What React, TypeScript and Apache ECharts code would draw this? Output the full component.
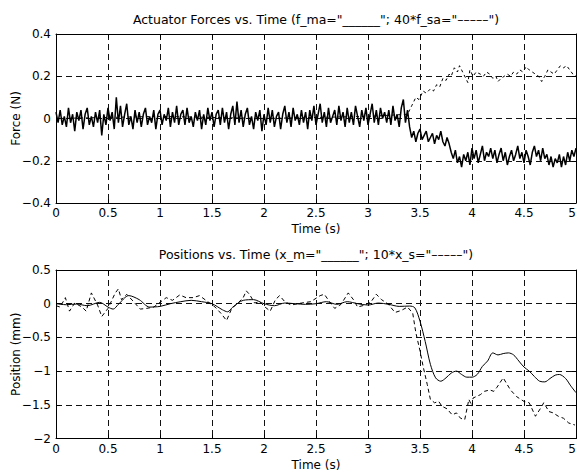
import React, { useEffect, useRef } from "react";
import * as echarts from "echarts";

// ---------- DATA ----------
const xTicks = [0, 0.5, 1, 1.5, 2, 2.5, 3, 3.5, 4, 4.5, 5];
const forceTicks = [-0.4, -0.2, 0, 0.2, 0.4];
const posTicks = [-2, -1.5, -1, -0.5, 0, 0.5];

// f_ma sampled every 0.02 s from 0 to 5 s (N)
const forceMasterStep = 0.02;
const forceMaster = [
  0.03, -0.02, 0.04, -0.03, 0.01, -0.04, 0.05, -0.02, 0.02, -0.06, 0.03, -0.01, 0.04, -0.05, 0.02, 0.05, -0.03, 0.01, -0.04, 0.03,
  -0.02, 0.04, -0.08, 0.02, -0.03, 0.05, -0.01, 0.03, -0.05, 0.10, -0.02, 0.06, -0.04, 0.02, 0.07, -0.03, 0.01, -0.05, 0.04, -0.02,
  0.03, -0.04, 0.02, 0.05, -0.03, 0.01, -0.02, 0.04, -0.05, 0.02, 0.04, -0.03, 0.02, -0.01, 0.05, -0.04, 0.03, -0.02, 0.06, -0.03,
  0.02, 0.04, -0.03, 0.05, -0.02, 0.01, -0.04, 0.03, -0.01, 0.04, -0.05, 0.02, -0.03, 0.05, -0.01, 0.03, -0.04, 0.02, 0.04, -0.03,
  0.05, -0.02, 0.03, -0.05, 0.02, 0.06, -0.03, 0.08, -0.02, 0.04, -0.04, 0.02, 0.05, -0.03, 0.01, -0.05, 0.03, -0.01, 0.04, -0.06,
  0.02, -0.03, 0.05, -0.02, 0.04, -0.04, 0.01, 0.03, -0.05, 0.02, 0.06, -0.02, 0.03, -0.04, 0.05, -0.01, 0.02, -0.03, 0.04, -0.02,
  0.03, -0.05, 0.04, -0.01, 0.06, -0.03, 0.02, 0.07, -0.02, 0.03, -0.04, 0.05, -0.02, 0.01, 0.04, -0.03, 0.06, -0.01, 0.03, -0.04,
  0.05, -0.02, 0.03, -0.03, 0.06, 0.01, -0.04, 0.04, -0.01, 0.05, -0.03, 0.02, 0.07, -0.02, 0.04, -0.03, 0.05, 0.0, 0.03, -0.02,
  0.04, -0.03, 0.06, -0.01, 0.02, -0.04, 0.05, 0.09, -0.02, 0.04,
  -0.04, -0.09, -0.06, -0.11, -0.07, -0.05, -0.10, -0.08, -0.06, -0.11, -0.09, -0.07, -0.12, -0.08, -0.10, -0.06, -0.11, -0.13, -0.09, -0.12,
  -0.16, -0.19, -0.15, -0.21, -0.18, -0.23, -0.17, -0.20, -0.16, -0.22, -0.14, -0.19, -0.15, -0.21, -0.17, -0.13, -0.20, -0.16, -0.18, -0.14,
  -0.19, -0.15, -0.21, -0.17, -0.14, -0.20, -0.16, -0.22, -0.18, -0.15, -0.20, -0.17, -0.13, -0.19, -0.16, -0.21, -0.15, -0.18, -0.22, -0.16,
  -0.13, -0.18, -0.15, -0.20, -0.14, -0.19, -0.17, -0.22, -0.18, -0.23, -0.19, -0.21, -0.17, -0.23, -0.18, -0.22, -0.16, -0.20, -0.15, -0.18,
  -0.14,
];

// 40*f_sa (N)
const forceSlaveT = [
  0, 1, 2, 3, 3.38, 3.42, 3.46, 3.49, 3.53, 3.56, 3.6, 3.63, 3.66, 3.69, 3.72, 3.75, 3.78, 3.8, 3.83, 3.86, 3.88, 3.91, 3.94, 3.96, 3.98,
  4.01, 4.04, 4.08, 4.11, 4.14, 4.17, 4.2, 4.23, 4.25, 4.28, 4.31, 4.34, 4.37, 4.4, 4.43, 4.46, 4.49, 4.52, 4.55, 4.58,
  4.61, 4.64, 4.67, 4.7, 4.73, 4.76, 4.79, 4.82, 4.85, 4.88, 4.91, 4.94, 4.97, 5.0,
];
const forceSlave = [
  0, 0.01, 0, 0.01, 0.02, 0.06, 0.1, 0.09, 0.13, 0.12, 0.14, 0.13, 0.16, 0.15, 0.19, 0.18, 0.21, 0.2, 0.24, 0.22, 0.25, 0.22, 0.19, 0.17, 0.23,
  0.2, 0.22, 0.21, 0.2, 0.22, 0.21, 0.19, 0.2, 0.175, 0.19, 0.2, 0.21, 0.2, 0.22, 0.21, 0.23, 0.22, 0.245, 0.23, 0.22,
  0.21, 0.2, 0.175, 0.2, 0.23, 0.22, 0.21, 0.23, 0.25, 0.24, 0.25, 0.23, 0.21, 0.2,
];

// x_m (mm)
const posMasterT = [
  0, 0.1, 0.2, 0.3, 0.42, 0.5, 0.55, 0.6, 0.7, 0.8, 0.9, 1.0, 1.1, 1.2, 1.3, 1.4, 1.5, 1.6, 1.65, 1.7, 1.8, 1.9, 2.0, 2.1, 2.2,
  2.3, 2.4, 2.5, 2.6, 2.7, 2.8, 2.9, 3.0, 3.1, 3.2, 3.3, 3.4, 3.45, 3.5, 3.55, 3.6, 3.65, 3.7, 3.75, 3.8, 3.85, 3.9, 3.95,
  4.0, 4.05, 4.1, 4.15, 4.2, 4.25, 4.3, 4.35, 4.4, 4.45, 4.5, 4.55, 4.6, 4.65, 4.7, 4.75, 4.8, 4.84, 4.9, 4.95, 5.0,
];
const posMaster = [
  0, -0.015, -0.005, -0.03, 0.02, -0.05, -0.08, -0.01, 0.12, 0.06, -0.05, -0.04, 0, 0.03, 0.05, 0.03, 0, -0.09, -0.12, -0.05, 0.05, 0.06, 0, -0.03, 0.01,
  0, -0.01, 0, 0.03, -0.01, 0.03, 0, -0.02, 0.01, -0.01, -0.04, -0.035, -0.06, -0.26, -0.56, -0.9, -1.1, -1.15, -1.1, -1.03, -1.0, -1.05, -1.09,
  -1.09, -1.05, -0.93, -0.85, -0.73, -0.76, -0.74, -0.73, -0.76, -0.85, -0.94, -1.0, -1.08, -1.15, -1.16, -1.11, -1.06, -1.05, -1.11, -1.22, -1.32,
];

// 10*x_s (mm)
const posSlaveT = [
  0, 0.04, 0.09, 0.13, 0.18, 0.25, 0.29, 0.34, 0.4, 0.44, 0.5, 0.57, 0.6, 0.63, 0.68, 0.74, 0.81, 0.87, 0.94, 1.0, 1.06, 1.12, 1.19, 1.25,
  1.32, 1.38, 1.45, 1.53, 1.59, 1.64, 1.69, 1.75, 1.8, 1.83, 1.86, 1.91, 1.96, 2.01, 2.06, 2.11, 2.15, 2.2, 2.26, 2.36, 2.45, 2.54, 2.58,
  2.63, 2.68, 2.74, 2.81, 2.86, 2.9, 2.97, 3.03, 3.08, 3.13, 3.19, 3.26, 3.32, 3.38, 3.43, 3.46, 3.5, 3.53, 3.57, 3.6, 3.64, 3.68, 3.71,
  3.76, 3.81, 3.85, 3.89, 3.93, 3.97, 4.0, 4.01, 4.08, 4.12, 4.17, 4.21, 4.24, 4.3, 4.37, 4.43, 4.5, 4.55, 4.61, 4.66, 4.69, 4.74, 4.78,
  4.83, 4.88, 4.93, 4.99,
];
const posSlave = [
  -0.03, -0.05, 0.09, -0.11, 0.01, -0.05, -0.11, 0.16, -0.02, -0.19, -0.07, 0.16, 0.22, 0.06, 0.14, 0.04, -0.08, -0.07, -0.05, 0.02, 0.09, 0.05, 0.13, 0.09,
  0.09, 0.12, 0.04, -0.05, -0.15, -0.25, -0.07, 0.01, 0.09, 0.19, 0.14, 0.01, 0.03, -0.05, -0.11, 0.06, 0.12, 0.03, -0.02, 0.01, 0.03, 0.12, 0.14,
  0.03, -0.07, -0.01, 0.16, 0.06, -0.05, -0.02, 0.03, 0.14, 0.06, 0, -0.13, -0.1, -0.05, -0.14, -0.43, -0.7, -0.93, -1.2, -1.42, -1.47, -1.45, -1.52,
  -1.56, -1.65, -1.62, -1.7, -1.72, -1.42, -1.52, -1.4, -1.35, -1.3, -1.28, -1.3, -1.24, -1.1, -1.28, -1.38, -1.45, -1.47, -1.67, -1.55, -1.47, -1.6, -1.62,
  -1.67, -1.7, -1.77, -1.8,
];

const titleTop = 'Actuator Forces vs. Time (f_ma="______"; 40*f_sa="–––––")';
const titleBottom = 'Positions vs. Time (x_m="______"; 10*x_s="–––––")';
const xName = "Time (s)";
const yNameTop = "Force (N)";
const yNameBottom = "Position (mm)";

// ---------- CHART ----------
const FONT = "'DejaVu Sans', 'Liberation Sans', Arial, sans-serif";
const fmt = (v: number) => {
  const r = Math.round(v * 1000) / 1000;
  return String(r).replace("-", "\u2212");
};

export default function App() {
  const ref = useRef<HTMLDivElement>(null);
  useEffect(() => {
    if (!ref.current) return;
    const chart = echarts.init(ref.current, undefined, { renderer: "svg" });

    const grids = [
      { left: 56, top: 34, width: 520, height: 169 },
      { left: 56, top: 270, width: 520, height: 168.5 },
    ];
    const yRanges = [
      { min: forceTicks[0], max: forceTicks[forceTicks.length - 1], interval: 0.2, name: yNameTop },
      { min: posTicks[0], max: posTicks[posTicks.length - 1], interval: 0.5, name: yNameBottom },
    ];
    const gridLine = { show: true, lineStyle: { color: "#111", width: 1, type: [6, 4] as any } };
    const textStyle = { color: "#000", fontSize: 12, fontFamily: FONT };
    const frame = { show: true, onZero: false, lineStyle: { color: "#000", width: 1 } };
    const tick = { show: true, inside: true, length: 4, lineStyle: { color: "#000" } };

    const xAxis: any[] = [];
    const yAxis: any[] = [];
    [0, 1].forEach((g) => {
      xAxis.push({
        type: "value",
        gridIndex: g,
        min: xTicks[0],
        max: xTicks[xTicks.length - 1],
        interval: 0.5,
        position: "bottom",
        name: xName,
        nameLocation: "middle",
        nameGap: 20,
        nameMoveOverlap: false,
        nameTextStyle: textStyle,
        axisLine: frame,
        axisTick: tick,
        axisLabel: { ...textStyle, margin: 4, formatter: fmt, showMaxLabel: true, alignMaxLabel: "right" },
        splitLine: gridLine,
      });
      xAxis.push({
        type: "value",
        gridIndex: g,
        min: xTicks[0],
        max: xTicks[xTicks.length - 1],
        interval: 0.5,
        position: "top",
        axisLine: frame,
        axisTick: tick,
        axisLabel: { show: false },
        splitLine: { show: false },
      });
      const yr = yRanges[g];
      yAxis.push({
        type: "value",
        gridIndex: g,
        min: yr.min,
        max: yr.max,
        interval: yr.interval,
        position: "left",
        name: yr.name,
        nameLocation: "middle",
        nameGap: 34,
        nameRotate: 90,
        nameMoveOverlap: false,
        nameTextStyle: textStyle,
        axisLine: frame,
        axisTick: tick,
        axisLabel: { ...textStyle, margin: 5, formatter: fmt },
        splitLine: gridLine,
      });
      yAxis.push({
        type: "value",
        gridIndex: g,
        min: yr.min,
        max: yr.max,
        interval: yr.interval,
        position: "right",
        axisLine: frame,
        axisTick: tick,
        axisLabel: { show: false },
        splitLine: { show: false },
      });
    });

    const zip = (ts: number[], vs: number[]) => ts.map((t, i) => [t, vs[i]]);
    const fmData = forceMaster.map((v, i) => [Math.round(i * forceMasterStep * 1000) / 1000, v]);

    const series: any[] = [
      {
        type: "line",
        xAxisIndex: 0,
        yAxisIndex: 0,
        data: zip(forceSlaveT, forceSlave),
        showSymbol: false,
        lineStyle: { color: "#000", width: 1, type: [3, 3] },
        z: 2,
      },
      {
        type: "line",
        xAxisIndex: 0,
        yAxisIndex: 0,
        data: fmData,
        showSymbol: false,
        lineStyle: { color: "#000", width: 1.5 },
        z: 3,
      },
      {
        type: "line",
        xAxisIndex: 2,
        yAxisIndex: 2,
        data: zip(posSlaveT, posSlave),
        showSymbol: false,
        lineStyle: { color: "#000", width: 1, type: [4, 3] },
        z: 2,
      },
      {
        type: "line",
        xAxisIndex: 2,
        yAxisIndex: 2,
        data: zip(posMasterT, posMaster),
        showSymbol: false,
        smooth: 0.3,
        lineStyle: { color: "#000", width: 1 },
        z: 3,
      },
    ];

    chart.setOption({
      animation: false,
      backgroundColor: "#fff",
      textStyle: { fontFamily: FONT },
      grid: grids.map((g) => ({ ...g, containLabel: false, outerBoundsMode: "none", show: false })),
      xAxis,
      yAxis,
      series,
      graphic: [
        {
          type: "text",
          x: 316,
          y: 19,
          style: { text: titleTop, fill: "#000", font: `12.5px ${FONT}`, textAlign: "center", textVerticalAlign: "middle" },
        },
        {
          type: "text",
          x: 316,
          y: 254,
          style: { text: titleBottom, fill: "#000", font: `12.5px ${FONT}`, textAlign: "center", textVerticalAlign: "middle" },
        },
      ],
    });
    return () => chart.dispose();
  }, []);
  return <div ref={ref} style={{ width: 578, height: 475, position: "absolute", left: 0, top: 0 }} />;
}
